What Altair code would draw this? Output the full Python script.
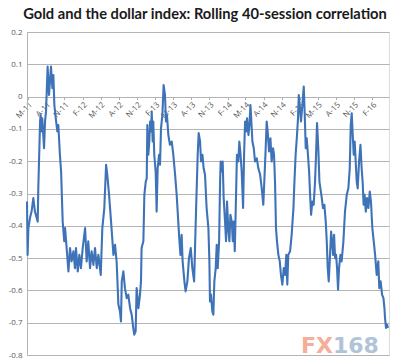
import altair as alt
import pandas as pd

title_text = "Gold and the dollar index: Rolling 40-session correlation"
start_date = "2011-05-01"

# day offsets from start_date and correlation values
days_2011 = [-5, -2, 2, 10, 18, 27, 35, 44, 49, 52, 61, 64, 69, 72, 81, 86, 91, 99, 106, 116,
             123, 128, 133, 140, 148, 153, 161, 167, 175, 183, 187, 195, 204, 212, 220, 229, 237, 242, 251, 259,
             267, 276, 288, 296, 304, 313, 321, 330, 338, 347, 355, 367, 375, 385, 394, 400, 409, 419, 431, 439,
             447, 456]
vals_2011 = [-0.325, -0.49, -0.407, -0.376, -0.356, -0.314, -0.356, -0.376, -0.387, -0.284,
             -0.077, -0.057, -0.108, -0.067, -0.160, -0.077, -0.046, 0.093, 0.005, 0.093,
             0.026, 0.067, -0.026, -0.067, -0.108, -0.088, -0.180, -0.232, -0.387, -0.448,
             -0.407, -0.469, -0.541, -0.469, -0.510, -0.479, -0.531, -0.469, -0.541, -0.490,
             -0.531, -0.469, -0.407, -0.510, -0.448, -0.531, -0.479, -0.521, -0.469, -0.531,
             -0.490, -0.552, -0.407, -0.345, -0.211, -0.242, -0.304, -0.387, -0.490, -0.459,
             -0.510, -0.644]

days_2012 = [464, 469, 473, 481, 489, 498, 506, 515, 523, 531, 536, 543, 548, 557, 565, 570, 573, 582, 587, 594,
             599, 602, 607, 612, 616, 621, 624, 629, 632, 637, 644, 649, 654, 661, 666, 671, 678, 684, 691, 696,
             701, 708, 716, 725, 733, 742, 750, 758, 764, 769, 775, 780, 789, 795, 804, 812, 821, 829, 838, 843,
             849, 856, 861, 868, 873, 880, 886, 893]
vals_2012 = [-0.665, -0.696, -0.572, -0.541, -0.593, -0.624, -0.613, -0.655, -0.675, -0.716,
             -0.737, -0.727, -0.593, -0.655, -0.613, -0.572, -0.469, -0.448, -0.304, -0.263,
             -0.253, -0.088, -0.180, -0.139, -0.077, -0.108, -0.046, -0.139, -0.077, -0.180,
             -0.232, -0.356, -0.222, -0.180, -0.211, -0.098, -0.057, 0.036, 0.005, -0.077,
             -0.057, -0.119, -0.149, -0.139, -0.180, -0.242, -0.304, -0.387, -0.448, -0.490,
             -0.428, -0.510, -0.572, -0.603, -0.572, -0.500, -0.469, -0.531, -0.572, -0.459,
             -0.325, -0.180, -0.113, -0.139, -0.201, -0.180, -0.222, -0.242]

days_2013 = [901, 910, 915, 918, 923, 930, 935, 940, 947, 952, 957, 964, 969, 972, 977, 982, 987, 994, 999, 1004,
             1011, 1016, 1021, 1028, 1033, 1038, 1043, 1048, 1054, 1061, 1066, 1071, 1078, 1085, 1090, 1095, 1100,
             1105, 1112, 1117, 1122, 1125, 1132, 1139, 1145, 1154, 1162, 1171, 1179, 1187, 1192, 1199, 1204, 1209,
             1216, 1223, 1229, 1236, 1241, 1246, 1251, 1256, 1263, 1270, 1276, 1283, 1290, 1297, 1303, 1308, 1313,
             1322, 1330, 1339, 1344, 1350, 1357, 1362, 1366]
vals_2013 = [-0.345, -0.407, -0.510, -0.634, -0.613, -0.665, -0.675, -0.572, -0.531, -0.459,
             -0.531, -0.448, -0.263, -0.201, -0.232, -0.201, -0.314, -0.387, -0.448, -0.325,
             -0.418, -0.448, -0.366, -0.387, -0.448, -0.387, -0.479, -0.345, -0.180, -0.201,
             -0.139, -0.170, -0.232, -0.345, -0.180, -0.077, -0.108, -0.067, -0.119, -0.088,
             -0.026, -0.057, -0.139, -0.160, -0.201, -0.191, -0.222, -0.242, -0.284, -0.335,
             -0.263, -0.160, -0.077, -0.108, -0.170, -0.129, -0.201, -0.160, -0.180, -0.263,
             -0.407, -0.448, -0.490, -0.510, -0.552, -0.582, -0.531, -0.552, -0.490, -0.582,
             -0.490, -0.479, -0.428, -0.345, -0.263, -0.180, -0.119, -0.067, 0.005]

days_2015 = [1372, 1377, 1384, 1391, 1396, 1401, 1406, 1411, 1418, 1423, 1428, 1434, 1441, 1448, 1453, 1458,
             1465, 1470, 1475, 1482, 1488, 1495, 1502, 1507, 1512, 1517, 1522, 1529, 1534, 1539, 1544, 1549,
             1554, 1559, 1564, 1569, 1576, 1582, 1591, 1599, 1608, 1616, 1623, 1628, 1633, 1638, 1643, 1648,
             1653, 1658, 1663, 1670, 1677, 1683, 1688, 1693, 1698, 1704, 1710, 1717, 1724, 1730, 1737, 1744,
             1751, 1759, 1767, 1772, 1779, 1786, 1793, 1798, 1801, 1806, 1811, 1816]
vals_2015 = [-0.036, -0.077, -0.026, 0.031, -0.057, -0.160, -0.129, -0.170, -0.232, -0.304,
             -0.366, -0.325, -0.335, -0.263, -0.180, -0.082, -0.170, -0.263, -0.284, -0.314,
             -0.345, -0.335, -0.387, -0.448, -0.531, -0.572, -0.510, -0.418, -0.448, -0.490,
             -0.428, -0.500, -0.490, -0.531, -0.598, -0.531, -0.490, -0.510, -0.448, -0.356,
             -0.304, -0.284, -0.222, -0.088, -0.052, -0.119, -0.180, -0.139, -0.201, -0.263,
             -0.284, -0.201, -0.149, -0.222, -0.263, -0.335, -0.304, -0.356, -0.314, -0.345,
             -0.294, -0.325, -0.407, -0.448, -0.490, -0.552, -0.510, -0.593, -0.572, -0.613,
             -0.624, -0.655, -0.686, -0.716, -0.706, -0.716]

tick_dates = ["2011-05-01", "2011-08-01", "2011-11-01", "2012-02-01", "2012-05-01", "2012-08-01",
              "2012-11-01", "2013-02-01", "2013-05-01", "2013-08-01", "2013-11-01", "2014-02-01",
              "2014-05-01", "2014-08-01", "2014-11-01", "2015-02-01", "2015-05-01", "2015-08-01",
              "2015-11-01", "2016-02-01"]
x_domain = ["2011-04-26", "2016-04-25"]
y_ticks = [0.2, 0.1, 0, -0.1, -0.2, -0.3, -0.4, -0.5, -0.6, -0.7, -0.8]
y_domain = [-0.8, 0.2]
wm_left = "FX"
wm_right = "168"

all_days = days_2011 + days_2012 + days_2013 + days_2015
all_vals = vals_2011 + vals_2012 + vals_2013 + vals_2015
base = pd.Timestamp(start_date)
dates = [(base + pd.Timedelta(days=d)).strftime("%Y-%m-%d") for d in all_days]
df = pd.DataFrame({"date": dates, "corr": all_vals})


def dt(s):
    y, m, d = map(int, s.split("-"))
    return alt.DateTime(year=y, month=m, date=d, utc=True)


W, H = 362, 323
zero_pos = H * (y_domain[1] - 0) / (y_domain[1] - y_domain[0])

line = alt.Chart(df).mark_line(color="#3f73b8", strokeWidth=2.1, strokeJoin="round").encode(
    x=alt.X("date:T",
            scale=alt.Scale(type="utc", domain=[dt(x_domain[0]), dt(x_domain[1])], nice=False),
            axis=alt.Axis(values=[dt(s) for s in tick_dates],
                          labelExpr="substring(utcFormat(datum.value, '%b'), 0, 1) + '-' + utcFormat(datum.value, '%y')",
                          labelAngle=-45, offset=zero_pos - H, grid=False, domain=False,
                          ticks=True, tickSize=3, tickColor="#b0b0b0", labelFontSize=8,
                          labelFont="Open Sans", labelColor="#595959", labelPadding=1,
                          labelOverlap=False, labelFlush=False, title=None)),
    y=alt.Y("corr:Q",
            scale=alt.Scale(domain=y_domain, nice=False, zero=False),
            axis=alt.Axis(values=y_ticks,
                          labelExpr="datum.value == 0 ? '0' : toString(round(datum.value * 10) / 10)",
                          grid=True, gridColor="#b4b4b4", gridWidth=1.2, domain=True,
                          domainColor="#b4b4b4", ticks=False, labelFontSize=8, labelFont="Open Sans",
                          labelColor="#595959", labelPadding=5, title=None)),
)

wm1 = alt.Chart(pd.DataFrame({"t": [wm_left]})).mark_text(
    font="DejaVu Sans", fontSize=22, fontWeight="bold", color="#f4a68c", align="right",
    baseline="alphabetic", opacity=0.9).encode(text="t:N", x=alt.value(306), y=alt.value(321))
wm2 = alt.Chart(pd.DataFrame({"t": [wm_right]})).mark_text(
    font="DejaVu Sans", fontSize=22, fontWeight="bold", color="#a9bdd5", align="left",
    baseline="alphabetic", opacity=0.9).encode(text="t:N", x=alt.value(306), y=alt.value(321))

chart = alt.layer(line, wm1, wm2).properties(
    width=W, height=H,
    title=alt.TitleParams(text=title_text, font="Lato", fontSize=14.7, fontWeight="bold",
                          color="#1a1a1a", anchor="middle", frame="group",
                          baseline="alphabetic", offset=8, dy=14, dx=-3),
    autosize=alt.AutoSizeParams(type="none"),
    padding={"left": 19, "top": 24, "right": 3, "bottom": 7},
).configure_view(strokeWidth=0).configure(background="white")

chart.save("out.html", embed_options={"renderer": "svg", "actions": False})
